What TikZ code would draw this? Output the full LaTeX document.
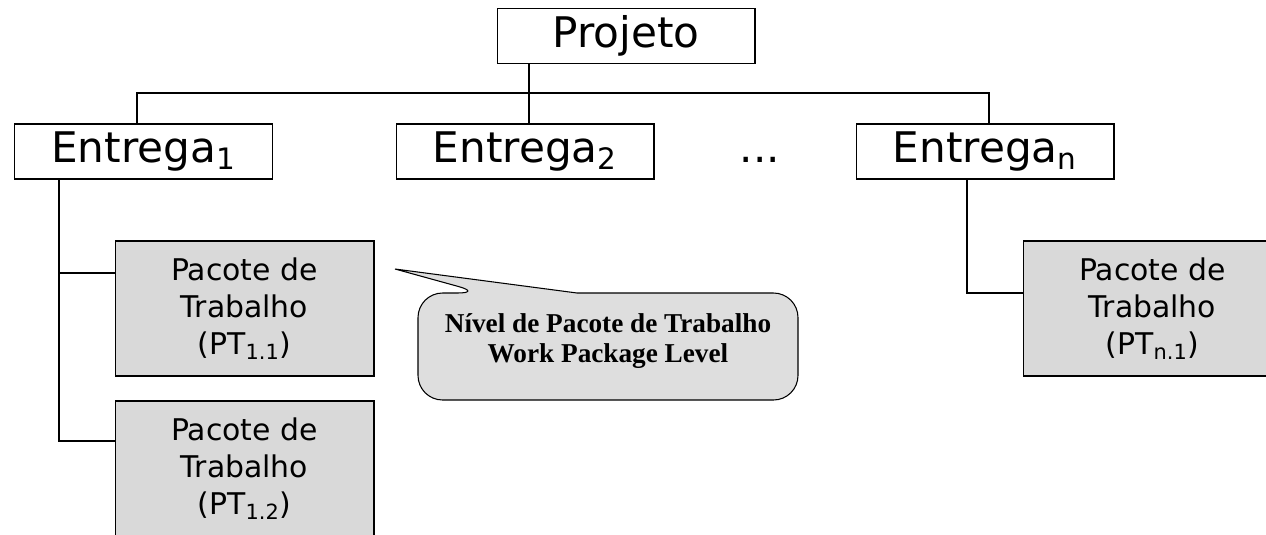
\documentclass[tikz,border=0pt]{standalone}
\usepackage{fontspec}
\setmainfont{DejaVu Sans}
\newfontfamily\calloutfont{Liberation Serif}
\usetikzlibrary{calc, positioning}
\definecolor{pkggray}{RGB}{217,217,217}
\definecolor{callgray}{RGB}{222,222,222}

\begin{document}
\begin{tikzpicture}[x=0.02cm, y=-0.02cm,
    level box/.style={draw, line width=0.6pt, minimum width=5.16cm, minimum height=1.1cm, inner sep=0pt, font=\fontsize{24}{28}\selectfont},
    package box/.style={draw, fill=pkggray, line width=0.6pt, minimum width=5.18cm, minimum height=2.7cm, inner sep=0pt, align=center, font=\fontsize{17}{21}\selectfont},
    link/.style={line width=0.9pt},
    callout box/.style={draw, fill=callgray, line width=0.6pt}]
    \useasboundingbox (0,0) rectangle (1266,534);

    \node[level box] (proj) at (626,36) {Projeto};
    \node[level box] (ent1) at (143.5,151.5) {Entrega\textsubscript{1}};
    \node[level box] (ent2) at (525,151.5) {Entrega\textsubscript{2}};
    \node[level box] (entn) at (985,151.5) {Entrega\textsubscript{n}};
    \node[font=\fontsize{24}{28}\selectfont] (dots) at (760,160) {...};

    \node[package box] (pt11) at (244.5,308.5) {Pacote de\\Trabalho\\(PT\textsubscript{1.1})};
    \node[package box] (pt12) at (244.5,468.5) {Pacote de\\Trabalho\\(PT\textsubscript{1.2})};
    \node[package box] (ptn1) at (1152.5,308.5) {Pacote de\\Trabalho\\(PT\textsubscript{n.1})};

    % bus under the project
    \coordinate (busL) at (137,93);
    \coordinate (busM) at (529,93);
    \coordinate (busR) at (989,93);
    \draw[link] (ent1.north -| busL) -- (busL) -- (busR) -- (entn.north -| busR);
    \draw[link] (proj.south -| busM) -- (ent2.north -| busM);

    % work packages
    \coordinate (br11) at (59,273);
    \coordinate (br12) at (59,441);
    \coordinate (brn1) at (967,293);
    \draw[link] (ent1.south -| br12) -- (br12) -- (pt12.west |- br12);
    \draw[link] (br11) -- (pt11.west |- br11);
    \draw[link] (entn.south -| brn1) -- (brn1) -- (ptn1.west |- brn1);

    % callout
    \coordinate (tip) at (395,269);
    \draw[callout box] (482,293) -- (tip) -- (577,293) [rounded corners=14] -- (798,293) -- (798,400) -- (418,400) -- (418,293) -- cycle;
    \node[font=\calloutfont\bfseries\fontsize{15.5}{17}\selectfont, align=center] (lvl) at (608,341) {Nível de Pacote de Trabalho\\Work Package Level};
\end{tikzpicture}
\end{document}
